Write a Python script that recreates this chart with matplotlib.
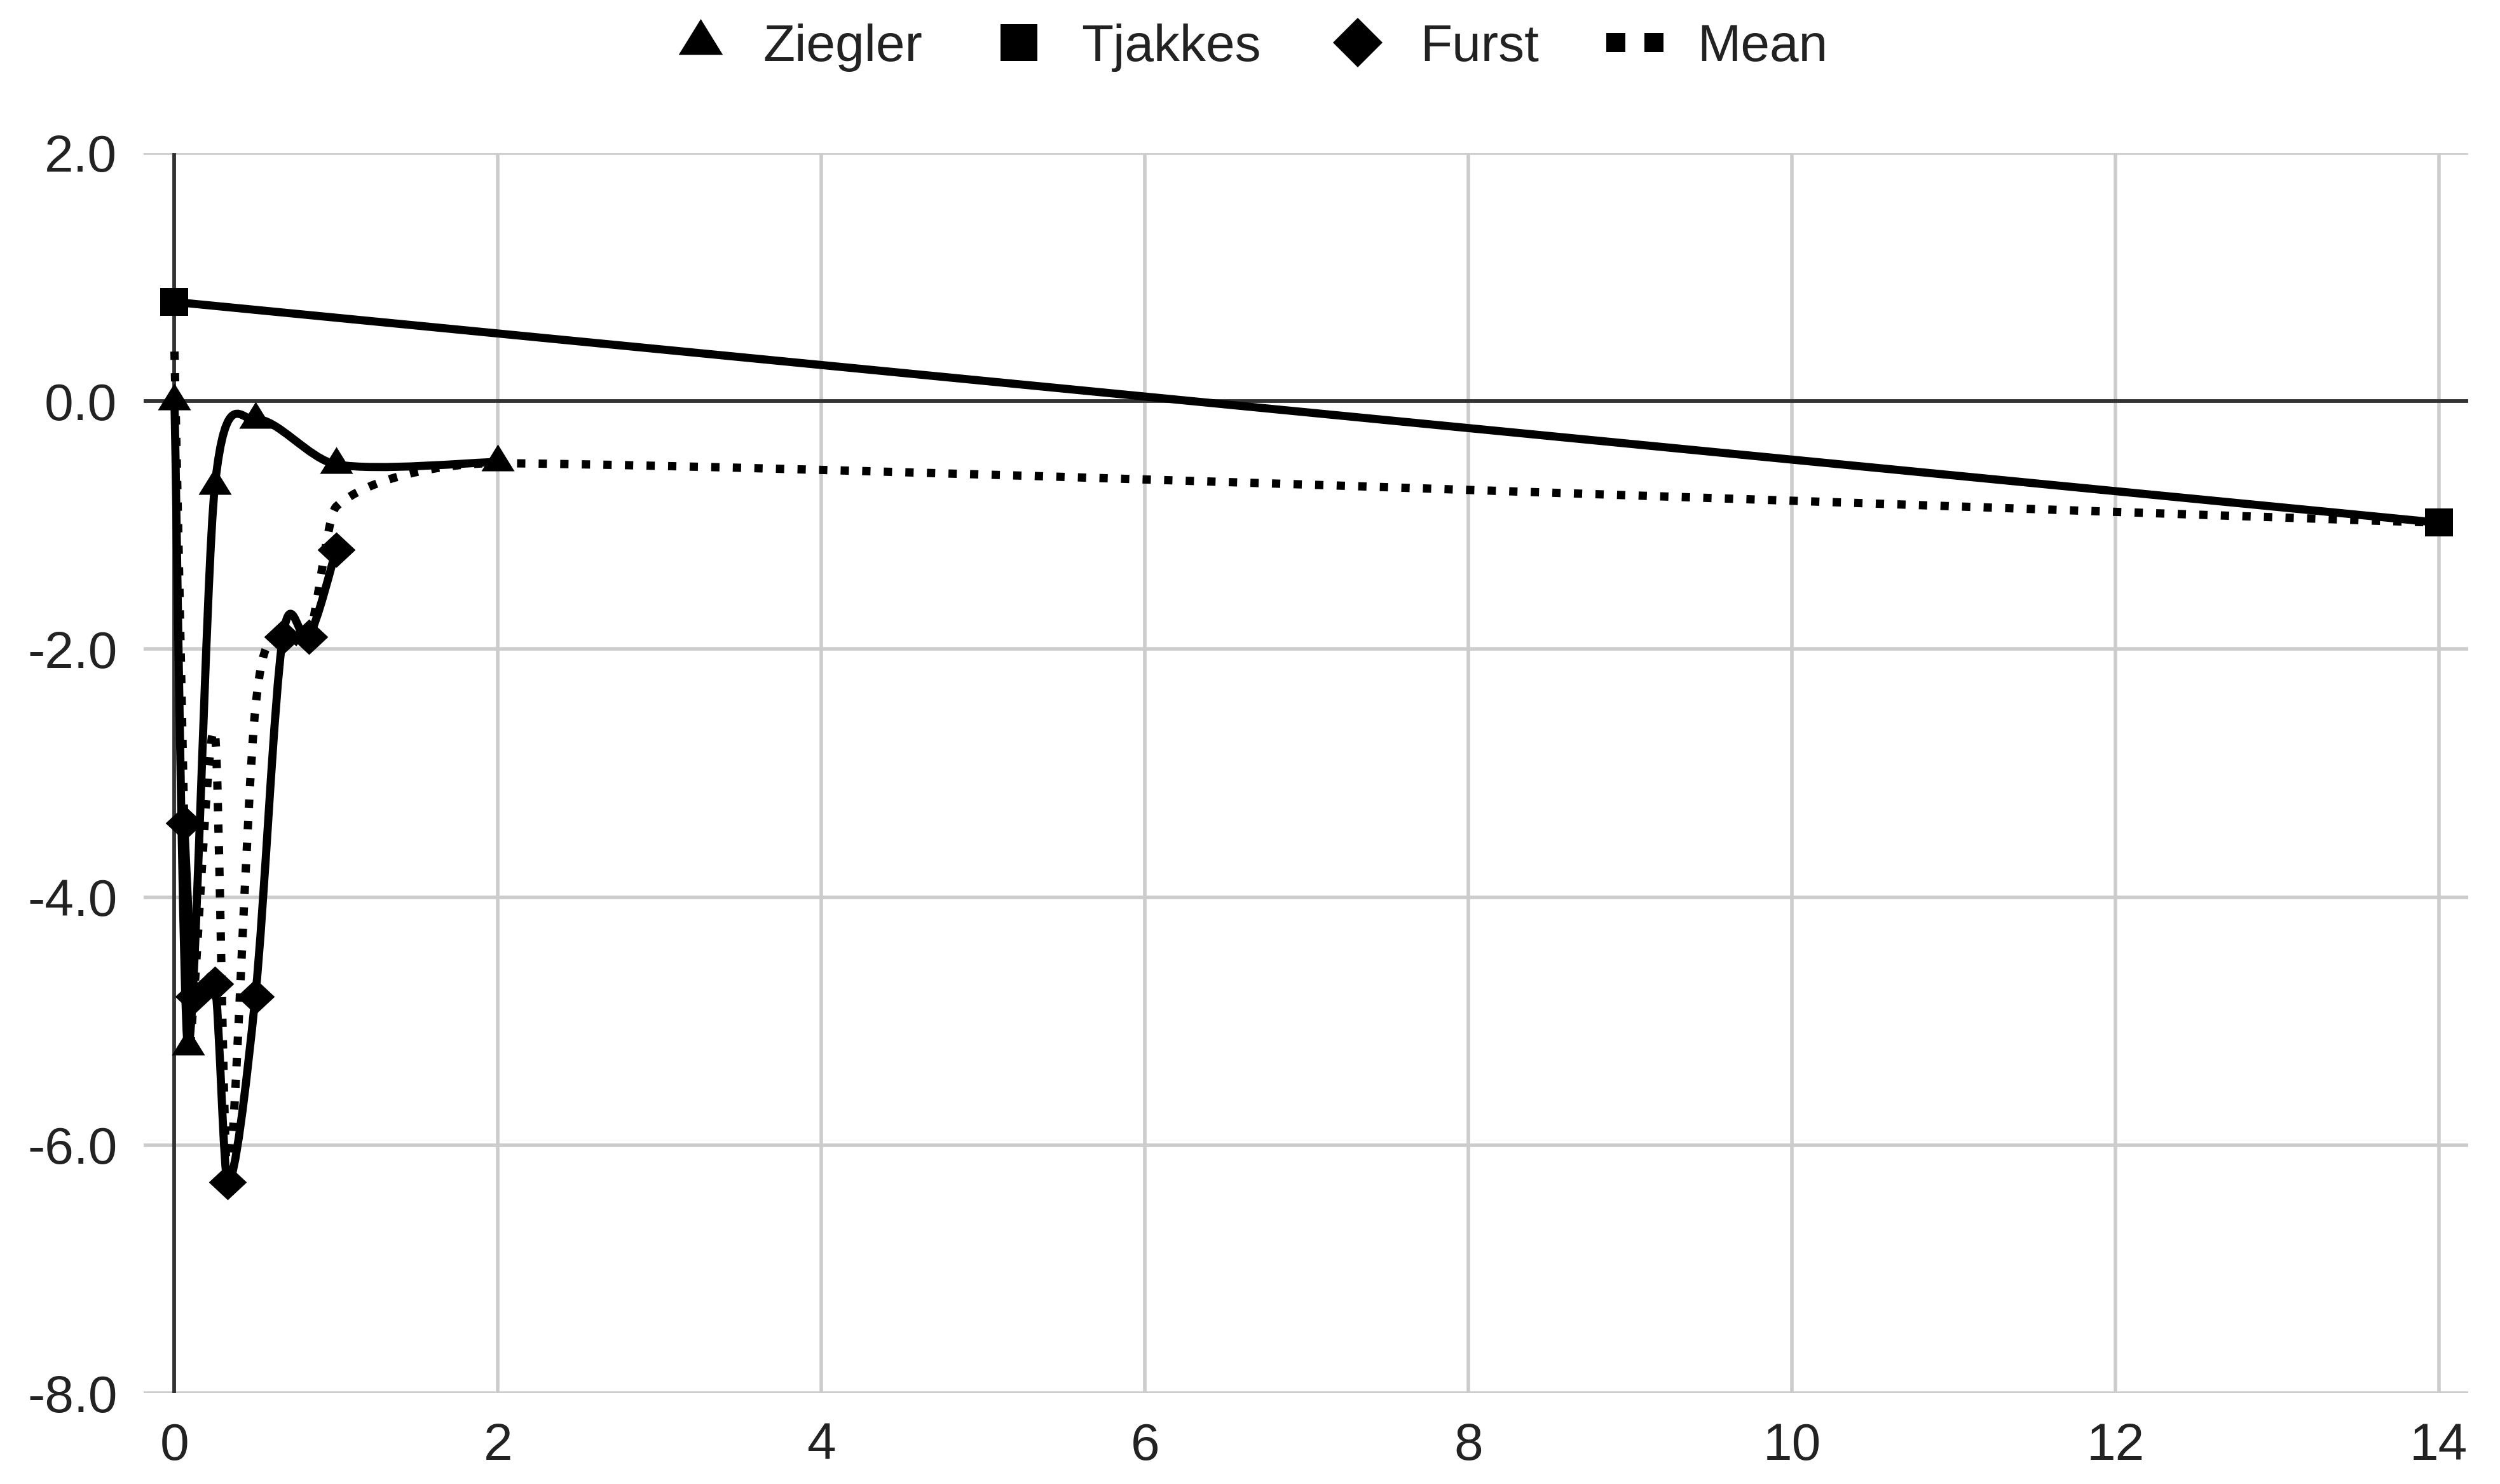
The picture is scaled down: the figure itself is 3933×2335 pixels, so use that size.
import matplotlib
matplotlib.use("Agg")
import matplotlib.pyplot as plt
import numpy as np
from matplotlib.path import Path
from matplotlib.patches import PathPatch
from matplotlib.lines import Line2D

plt.rcParams['font.family'] = ['Liberation Sans', 'DejaVu Sans']

# data (x in years)
ziegler_x = [0.0, 0.083, 0.25, 0.5, 1.0, 2.0]
ziegler_y = [0.0, -5.2, -0.68, -0.15, -0.51, -0.49]

tjakkes_x = [0.0, 14.0]
tjakkes_y = [0.8, -0.98]

furst_x = [0.06, 0.12, 0.25, 0.33, 0.5, 0.67, 0.83, 1.0]
furst_y = [-3.4, -4.8, -4.7, -6.3, -4.8, -1.9, -1.9, -1.2]

mean_x = [0.0, 0.06, 0.083, 0.12, 0.25, 0.33, 0.5, 0.67, 0.83, 1.0, 2.0, 14.0]
mean_y = [0.4, -3.4, -5.2, -4.8, -2.68, -6.3, -2.48, -1.9, -1.9, -0.85, -0.5, -0.98]

x_ticks = [0, 2, 4, 6, 8, 10, 12, 14]
y_ticks = [-8.0, -6.0, -4.0, -2.0, 0.0, 2.0]


def smooth_path(xs, ys, k=1.0 / 6):
    # catmull-rom bezier, control points kept inside their segment in x
    pts = np.column_stack([xs, ys]).astype(float)
    n = len(pts)
    verts = [pts[0]]
    codes = [Path.MOVETO]
    for i in range(n - 1):
        p0 = pts[i - 1] if i > 0 else pts[i]
        p1 = pts[i]
        p2 = pts[i + 1]
        p3 = pts[i + 2] if i + 2 < n else pts[i + 1]
        seg = p2[0] - p1[0]
        t1 = p2 - p0
        t2 = p3 - p1
        k1 = min(k, seg / 3.0 / t1[0]) if t1[0] > 0 else k
        k2 = min(k, seg / 3.0 / t2[0]) if t2[0] > 0 else k
        c1 = p1 + t1 * k1
        c2 = p2 - t2 * k2
        verts += [c1, c2, p2]
        codes += [Path.CURVE4] * 3
    return Path(verts, codes)


# triangle centred on its centroid, diamond slightly wider than tall
tri = [(0, 1.08), (-1, -0.54), (1, -0.54)]
dia = [(-1.07, 0), (0, 1), (1.07, 0), (0, -1)]

fig = plt.figure(figsize=(39.33, 23.35), dpi=100)
ax = fig.add_axes([0.0575, 0.0612, 0.9297, 0.8356])

lw = 9.2
series = [
    (ziegler_x, ziegler_y, tri, 40.5),
    (tjakkes_x, tjakkes_y, 's', 32),
    (furst_x, furst_y, dia, 43),
]
for xs, ys, mk, ms in series:
    patch = PathPatch(smooth_path(xs, ys), fill=False, edgecolor='black',
                      lw=lw, joinstyle='round', capstyle='butt', zorder=3)
    ax.add_patch(patch)
    ax.plot(xs, ys, ls='none', marker=mk, ms=ms, color='black', mew=0, zorder=5)

mean_patch = PathPatch(smooth_path(mean_x, mean_y), fill=False, edgecolor='black',
                       lw=9.4, linestyle=(0, (1.0, 1.6)), capstyle='butt', zorder=4)
ax.add_patch(mean_patch)

ax.set_xlim(-0.19, 14.18)
ax.set_ylim(-8, 2)
ax.set_xticks(x_ticks)
ax.set_xticklabels([str(v) for v in x_ticks])
ax.set_yticks(y_ticks)
ax.set_yticklabels(['%.1f' % v for v in y_ticks])
ax.grid(True, color='#cccccc', lw=4)
ax.set_axisbelow(True)
ax.axhline(0, color='#333333', lw=4.2, zorder=2)
ax.axvline(0, color='#333333', lw=4.2, zorder=2)
for s in ax.spines.values():
    s.set_visible(False)
ax.tick_params(axis='both', length=0, labelsize=59, colors='#222222')
ax.tick_params(axis='y', pad=30)
ax.tick_params(axis='x', pad=33)

handles = [
    Line2D([], [], ls='none', marker=tri, ms=54, color='black', mew=0),
    Line2D([], [], ls='none', marker='s', ms=42, color='black', mew=0),
    Line2D([], [], ls='none', marker='D', ms=40, color='black', mew=0),
    Line2D([], [], ls=(0, (1, 1)), lw=21.6, color='black', dash_capstyle='butt'),
]
labels = ['Ziegler', 'Tjakkes', 'Furst', 'Mean']
fig.legend(handles, labels, loc='center', bbox_to_anchor=(0.5, 0.968), ncol=4,
           frameon=False, fontsize=59, handlelength=1.1, handletextpad=0.65,
           columnspacing=1.3, numpoints=1, labelcolor='#222222')

fig.savefig('out.png', dpi=100)
